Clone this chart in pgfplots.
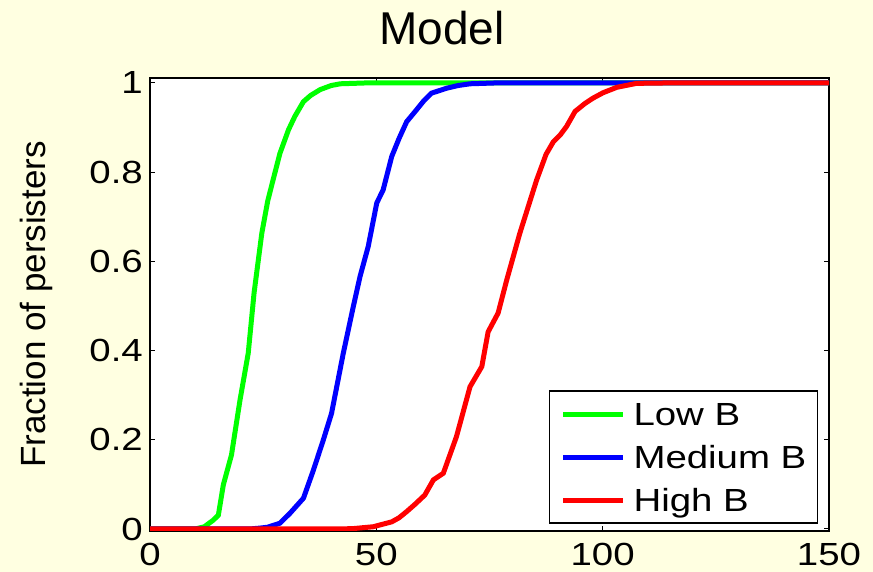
\documentclass[border=0pt]{standalone}
\usepackage{fontspec}
\setmainfont{Liberation Sans}
\newfontfamily\widefont[FakeStretch=1.2]{Liberation Sans}
\usepackage{pgfplots}
\pgfplotsset{compat=1.18}

\definecolor{figbg}{RGB}{255,255,225}
\definecolor{lowB}{RGB}{0,255,0}
\definecolor{medB}{RGB}{0,0,255}
\definecolor{highB}{RGB}{255,0,0}

\newcommand{\tickfont}{\widefont\fontsize{32}{32}\selectfont}

\begin{document}
\begin{tikzpicture}
  % figure background
  \fill[figbg] (0pt,0pt) rectangle (873pt,572pt);

  \begin{axis}[
    at={(150pt,41pt)}, anchor=south west,
    width=679pt, height=453pt, scale only axis,
    xmin=0, xmax=150, ymin=-0.0045, ymax=1.011,
    xtick={0,50,100,150},
    ytick={0,0.2,0.4,0.6,0.8,1},
    axis background/.style={fill=white},
    axis line style={black, line width=1.5pt},
    tick align=inside,
    major tick length=5pt,
    every tick/.style={black, line width=1pt},
    /pgf/number format/assume math mode=true,
    ticklabel style={font=\tickfont},
    yticklabel style={inner sep=0pt, xshift=-7pt},
    xticklabel style={inner sep=0pt, yshift=-12pt},
    legend cell align=left,
    legend image code/.code={\draw[#1, line width=5pt] (0pt,0pt) -- (60pt,0pt);},
    legend style={
      at={(rel axis cs:0.984,0.0155)}, anchor=south east,
      draw=black, line width=1.5pt, fill=white,
      inner xsep=11pt, inner ysep=11.5pt,
      row sep=20pt, column sep=8pt,
      font=\widefont\fontsize{32}{32}\selectfont,
      nodes={inner sep=0pt, text height=23pt, text depth=0pt},
    },
  ]
    % Low B
    \addplot[lowB, line width=5pt] coordinates {
      (0,0) (10,0) (12,0.005) (14,0.02) (15.1,0.031) (16.2,0.099)
      (18,0.166) (19.9,0.29) (21.7,0.394) (23,0.53)
      (24.7,0.663) (26,0.735) (27,0.775)
      (28.7,0.842) (30.6,0.895) (32,0.925) (33.9,0.958) (35.5,0.972)
      (37.6,0.985) (40,0.994) (42,0.998) (45,0.999) (48,1) (150,1)
    };
    \addlegendentry{Low B}
    % Medium B
    \addplot[medB, line width=5pt] coordinates {
      (0,0) (22,0) (24.3,0.002) (26,0.004) (28.7,0.013) (30.9,0.035)
      (33.9,0.069) (36.1,0.132) (38.3,0.2) (40.1,0.259) (42.7,0.394)
      (44.9,0.498) (46.4,0.566) (48.2,0.633) (50.1,0.731) (51.5,0.760)
      (53.4,0.835) (55,0.875) (56.7,0.913) (58.5,0.935) (60.5,0.96)
      (62.2,0.977) (65.5,0.988) (68,0.994) (70.7,0.998) (76.6,1) (150,1)
    };
    \addlegendentry{Medium B}
    % High B
    \addplot[highB, line width=5pt] coordinates {
      (0,0) (42,0) (45,0.001) (49.3,0.005) (53.4,0.016) (55,0.025)
      (56.7,0.039) (58.5,0.055) (60.7,0.076) (62.6,0.11) (64.8,0.125)
      (67.7,0.207) (70.7,0.319) (73.3,0.364) (74.7,0.442) (76.9,0.484)
      (78.8,0.558) (81.7,0.663) (85.4,0.782) (87.5,0.84) (89.1,0.868)
      (90.6,0.883) (92.0,0.902) (93.9,0.936) (96.1,0.954) (97.9,0.966)
      (100.1,0.978) (103.1,0.990) (107.5,0.999) (114.9,1) (150,1)
    };
    \addlegendentry{High B}
  \end{axis}

  % title and y-axis label
  \node[anchor=base, font=\fontsize{46}{46}\selectfont] at (442pt,527pt) {Model};
  \node[anchor=base, rotate=90, font=\fontsize{35}{35}\selectfont] at (45pt,267.5pt) {Fraction of persisters};
\end{tikzpicture}
\end{document}
